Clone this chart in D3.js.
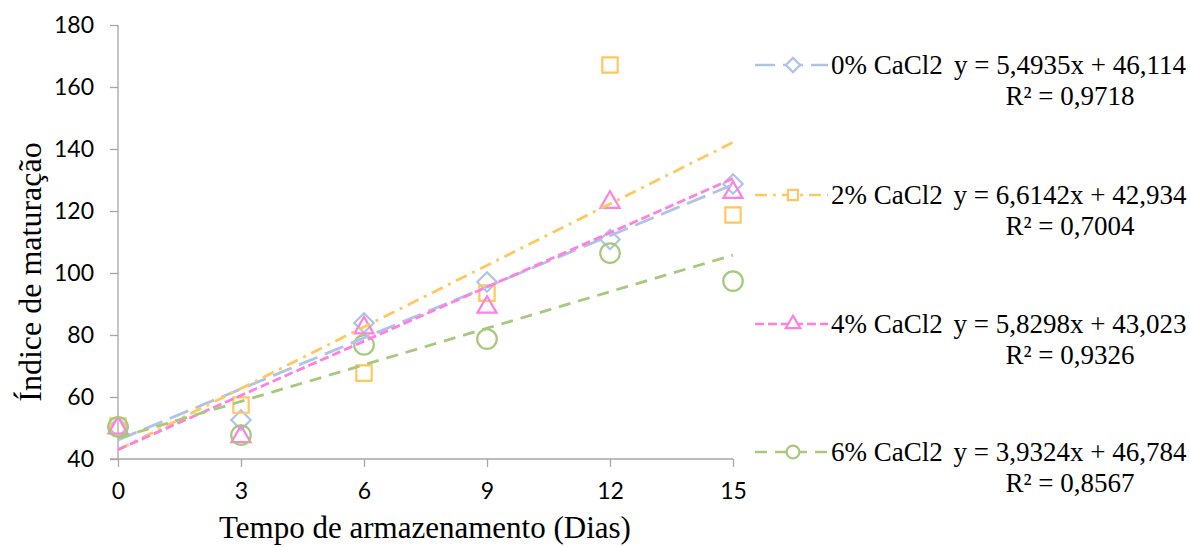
<!DOCTYPE html>
<html><head><meta charset="utf-8">
<script src="https://cdn.jsdelivr.net/npm/d3@7"></script>
<style>body{margin:0;background:#fff}</style>
</head><body>
<svg id="c" width="1190" height="547"></svg>
<script>
const days = [0, 3, 6, 9, 12, 15];
const seriesNames = ["0% CaCl2", "2% CaCl2", "4% CaCl2", "6% CaCl2"];
const vals0 = [50.2, 52.6, 83.9, 97.1, 110.8, 128.7];
const vals2 = [50.6, 57.4, 67.7, 93.5, 167.1, 118.7];
const vals4 = [50.0, 47.2, 82.3, 89.0, 122.8, 126.0];
const vals6 = [50.4, 47.7, 76.8, 78.7, 106.4, 97.4];
const slopes = [5.4935, 6.6142, 5.8298, 3.9324];
const intercepts = [46.114, 42.934, 43.023, 46.784];
const eqLabels = ["y = 5,4935x + 46,114", "y = 6,6142x + 42,934", "y = 5,8298x + 43,023", "y = 3,9324x + 46,784"];
const r2Labels = ["R² = 0,9718", "R² = 0,7004", "R² = 0,9326", "R² = 0,8567"];
const yTicks = [40, 60, 80, 100, 120, 140, 160, 180];
const xTicks = [0, 3, 6, 9, 12, 15];

const colors = ["#AFC3E8", "#FFC85E", "#FF80E0", "#A6C97C"];
const dashes = ["20,8", "12,6,3,6", "9,4", "12,8"];
const symbols = [d3.symbolDiamond2, d3.symbolSquare2, d3.symbolTriangle2, d3.symbolCircle];
const allVals = [vals0, vals2, vals4, vals6];
const serif = "'Liberation Serif', 'Times New Roman', serif";
const sans = "Lato, 'Open Sans', sans-serif";

const svg = d3.select("#c");
const x = d3.scaleLinear().domain([0, 15]).range([118, 733]);
const y = d3.scaleLinear().domain([40, 180]).range([459, 25]);

// Y axis
const yAx = svg.append("g").attr("transform", "translate(118,0)")
  .call(d3.axisLeft(y).tickValues(yTicks).tickSize(8).tickPadding(16).tickFormat(d3.format("d")));
yAx.select(".domain").attr("stroke", "#a6a6a6").attr("stroke-width", 1.3).attr("d", "M0,25V459");
yAx.selectAll(".tick line").attr("stroke", "#a6a6a6").attr("stroke-width", 1.3);
yAx.selectAll(".tick text").attr("font-family", sans).attr("font-size", 23).attr("fill", "#000");

// X axis
const xAx = svg.append("g").attr("transform", "translate(0,459)")
  .call(d3.axisBottom(x).tickValues(xTicks).tickSize(8).tickPadding(16).tickFormat(d3.format("d")));
xAx.select(".domain").attr("stroke", "#a6a6a6").attr("stroke-width", 1.3).attr("d", "M110,0H733");
xAx.selectAll(".tick line").attr("stroke", "#a6a6a6").attr("stroke-width", 1.3);
xAx.selectAll(".tick text").attr("font-family", sans).attr("font-size", 23).attr("fill", "#000");

// Axis titles
svg.append("text").attr("x", 425).attr("y", 538).attr("text-anchor", "middle")
  .attr("font-family", serif).attr("font-size", 31)
  .text("Tempo de armazenamento (Dias)");
svg.append("text").attr("transform", "translate(41,272) rotate(-90)").attr("text-anchor", "middle")
  .attr("font-family", serif).attr("font-size", 32)
  .text("Índice de maturação");

// Markers
allVals.forEach((vals, i) => {
  const sym = d3.symbol().type(symbols[i]).size(i === 2 ? 260 : (i === 0 ? 240 : 300));
  svg.append("g").selectAll("path").data(vals).join("path")
    .attr("transform", (d, j) => `translate(${x(days[j])},${y(d)})`)
    .attr("d", sym).attr("fill", "none").attr("stroke", colors[i]).attr("stroke-width", 2.2);
});

// Trendlines
allVals.forEach((vals, i) => {
  const line = d3.line().x(d => x(d)).y(d => y(slopes[i] * d + intercepts[i]));
  svg.append("path").datum([0, 15]).attr("d", line).attr("fill", "none")
    .attr("stroke", colors[i]).attr("stroke-width", 2.8).attr("stroke-dasharray", dashes[i]);
});

// Legend
const legY = [65, 195, 324, 452];
seriesNames.forEach((name, i) => {
  const g = svg.append("g").attr("transform", `translate(0,${legY[i]})`);
  g.append("line").attr("x1", 755).attr("x2", 828).attr("y1", 0).attr("y2", 0)
    .attr("stroke", colors[i]).attr("stroke-width", 2.5).attr("stroke-dasharray", dashes[i]);
  g.append("path").attr("transform", "translate(793,0)")
    .attr("d", d3.symbol().type(symbols[i]).size(i === 2 ? 150 : 130)())
    .attr("fill", "#fff").attr("stroke", colors[i]).attr("stroke-width", 2.2);
  g.append("text").attr("x", 831).attr("y", 9).attr("font-family", serif)
    .attr("font-size", 27).text(name);
  g.append("text").attr("x", 1070).attr("y", 9).attr("text-anchor", "middle")
    .attr("font-family", serif).attr("font-size", 27).text(eqLabels[i]);
  g.append("text").attr("x", 1070).attr("y", 40).attr("text-anchor", "middle")
    .attr("font-family", serif).attr("font-size", 27).text(r2Labels[i]);
});
</script>
</body></html>
